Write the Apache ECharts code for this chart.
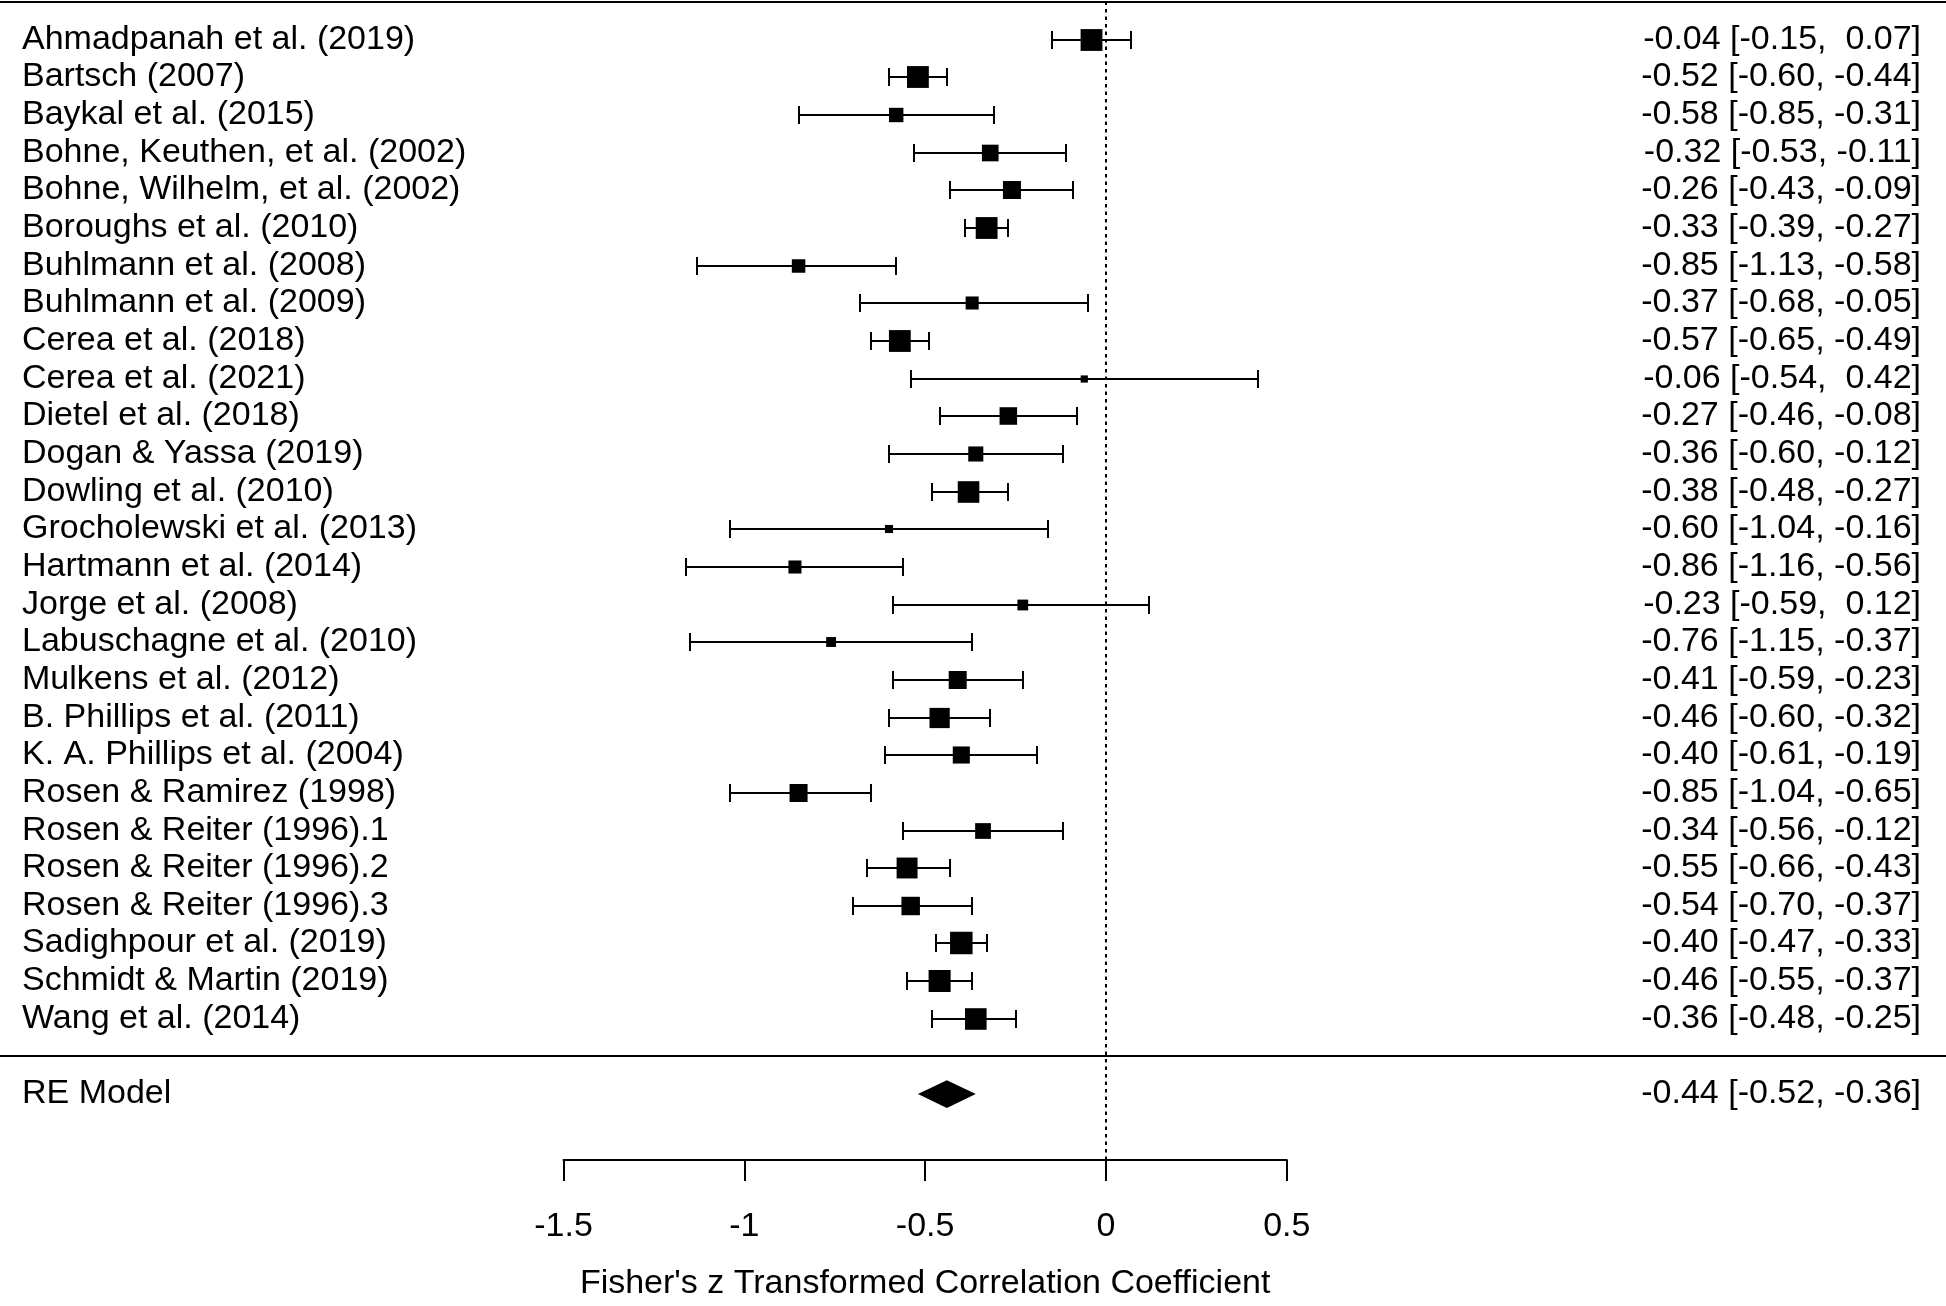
<!DOCTYPE html>
<html><head><meta charset="utf-8">
<script src="https://cdn.jsdelivr.net/npm/echarts@6/dist/echarts.min.js"></script>
<style>html,body{margin:0;padding:0;background:#fff}#c{width:1946px;height:1306px}</style>
</head><body><div id="c"></div>
<script>
// ---- data ----
const studies = [
  'Ahmadpanah et al. (2019)', 'Bartsch (2007)', 'Baykal et al. (2015)',
  'Bohne, Keuthen, et al. (2002)', 'Bohne, Wilhelm, et al. (2002)', 'Boroughs et al. (2010)',
  'Buhlmann et al. (2008)', 'Buhlmann et al. (2009)', 'Cerea et al. (2018)', 'Cerea et al. (2021)',
  'Dietel et al. (2018)', 'Dogan & Yassa (2019)', 'Dowling et al. (2010)', 'Grocholewski et al. (2013)',
  'Hartmann et al. (2014)', 'Jorge et al. (2008)', 'Labuschagne et al. (2010)', 'Mulkens et al. (2012)',
  'B. Phillips et al. (2011)', 'K. A. Phillips et al. (2004)', 'Rosen & Ramirez (1998)',
  'Rosen & Reiter (1996).1', 'Rosen & Reiter (1996).2', 'Rosen & Reiter (1996).3',
  'Sadighpour et al. (2019)', 'Schmidt & Martin (2019)', 'Wang et al. (2014)'
];
const estimates = [-0.04, -0.52, -0.58, -0.32, -0.26, -0.33, -0.85, -0.37, -0.57, -0.06,
  -0.27, -0.36, -0.38, -0.60, -0.86, -0.23, -0.76, -0.41, -0.46, -0.40, -0.85, -0.34, -0.55, -0.54,
  -0.40, -0.46, -0.36];
const ciLower = [-0.15, -0.60, -0.85, -0.53, -0.43, -0.39, -1.13, -0.68, -0.65, -0.54,
  -0.46, -0.60, -0.48, -1.04, -1.16, -0.59, -1.15, -0.59, -0.60, -0.61, -1.04, -0.56, -0.66, -0.70,
  -0.47, -0.55, -0.48];
const ciUpper = [0.07, -0.44, -0.31, -0.11, -0.09, -0.27, -0.58, -0.05, -0.49, 0.42,
  -0.08, -0.12, -0.27, -0.16, -0.56, 0.12, -0.37, -0.23, -0.32, -0.19, -0.65, -0.12, -0.43, -0.37,
  -0.33, -0.37, -0.25];
// relative study weights (square size relative to the largest square)
const relWeights = [0.97, 0.97, 0.64, 0.74, 0.80, 0.97, 0.60, 0.58, 0.97, 0.32,
  0.78, 0.67, 0.96, 0.36, 0.58, 0.48, 0.44, 0.80, 0.90, 0.76, 0.80, 0.70, 0.93, 0.82,
  1.00, 0.98, 0.96];
const summaryLabel = 'RE Model';
const summaryEst = -0.44, summaryLower = -0.52, summaryUpper = -0.36;
const xTicks = [-1.5, -1, -0.5, 0, 0.5];
const axisTitle = "Fisher's z Transformed Correlation Coefficient";

// ---- helpers ----
const FAMILY = '"Liberation Sans", Arial, sans-serif';
const FONT = '34px ' + FAMILY;
const fmt = v => (v < 0 ? '' : ' ') + v.toFixed(2);
const ciText = (e, l, u) => e.toFixed(2) + ' [' + fmt(l) + ', ' + fmt(u) + ']';
const k = studies.length;
const studyData = studies.map((s, i) => [estimates[i], k - i, ciLower[i], ciUpper[i], relWeights[i], i]);

const chart = echarts.init(document.getElementById('c'), null, {renderer: 'canvas'});
const LEFT_X = 22, RIGHT_PAD = 25, MAXSQ = 22.5, CAP = 9;

function textEl(x, y, text, align) {
  return {type: 'text', x: x, y: y, style: {text: text, font: FONT, fill: '#000', align: align, verticalAlign: 'middle'}};
}

chart.setOption({
  animation: false,
  backgroundColor: '#fff',
  grid: {left: 563.5, right: 659.2, top: 2.08, bottom: 137.9, containLabel: false},
  xAxis: {
    type: 'value', min: -1.5, max: 0.5, interval: 0.5,
    axisLine: {show: true, onZero: false, lineStyle: {color: '#000', width: 2}},
    axisTick: {show: true, length: 21, lineStyle: {color: '#000', width: 2}},
    axisLabel: {show: true, color: '#000', fontSize: 34, fontFamily: FAMILY, margin: 50,
      formatter: v => (xTicks.indexOf(v) >= 0 ? String(v) : '')},
    splitLine: {show: false},
    name: axisTitle, nameLocation: 'middle', nameGap: 107,
    nameTextStyle: {color: '#000', fontSize: 34, fontFamily: FAMILY}
  },
  yAxis: {type: 'value', min: -2.75, max: 28, show: false, splitLine: {show: false}},
  series: [
    {
      type: 'custom', clip: false, silent: true,
      data: [[0, k + 1], [0, 0]],
      renderItem: (params, api) => {
        const y = Math.round(api.coord([0, api.value(1)])[1]);
        return {type: 'line', shape: {x1: 0, y1: y, x2: api.getWidth(), y2: y}, style: {stroke: '#000', lineWidth: 2}};
      }
    },
    {
      type: 'line', data: [], silent: true,
      markLine: {silent: true, symbol: 'none', label: {show: false},
        lineStyle: {color: '#000', width: 2, type: [3.5, 4]},
        data: [{xAxis: 0}]}
    },
    {
      type: 'custom', clip: false, silent: true,
      encode: {x: [0, 2, 3], y: 1},
      data: studyData,
      renderItem: (params, api) => {
        const e = api.value(0), r = api.value(1), l = api.value(2), u = api.value(3), w = api.value(4), i = api.value(5);
        const pE = api.coord([e, r]), pL = api.coord([l, r]), pU = api.coord([u, r]);
        const y = Math.round(pE[1]), sz = w * MAXSQ;
        const xl = Math.round(pL[0]), xu = Math.round(pU[0]);
        const st = {stroke: '#000', lineWidth: 2};
        return {type: 'group', children: [
          {type: 'line', shape: {x1: xl, y1: y, x2: xu, y2: y}, style: st},
          {type: 'line', shape: {x1: xl, y1: y - CAP, x2: xl, y2: y + CAP}, style: st},
          {type: 'line', shape: {x1: xu, y1: y - CAP, x2: xu, y2: y + CAP}, style: st},
          {type: 'rect', shape: {x: pE[0] - sz / 2, y: y - sz / 2, width: sz, height: sz}, style: {fill: '#000'}},
          textEl(LEFT_X, y, studies[i], 'left'),
          textEl(api.getWidth() - RIGHT_PAD, y, ciText(estimates[i], ciLower[i], ciUpper[i]), 'right')
        ]};
      }
    },
    {
      type: 'custom', clip: false, silent: true,
      data: [[summaryEst, -1, summaryLower, summaryUpper]],
      renderItem: (params, api) => {
        const pE = api.coord([api.value(0), api.value(1)]);
        const pL = api.coord([api.value(2), api.value(1)]);
        const pU = api.coord([api.value(3), api.value(1)]);
        const y = pE[1], h = 13.8;
        return {type: 'group', children: [
          {type: 'polygon', shape: {points: [[pL[0], y], [pE[0], y - h], [pU[0], y], [pE[0], y + h]]}, style: {fill: '#000'}},
          textEl(LEFT_X, y, summaryLabel, 'left'),
          textEl(api.getWidth() - RIGHT_PAD, y, ciText(summaryEst, summaryLower, summaryUpper), 'right')
        ]};
      }
    }
  ]
});
</script></body></html>
